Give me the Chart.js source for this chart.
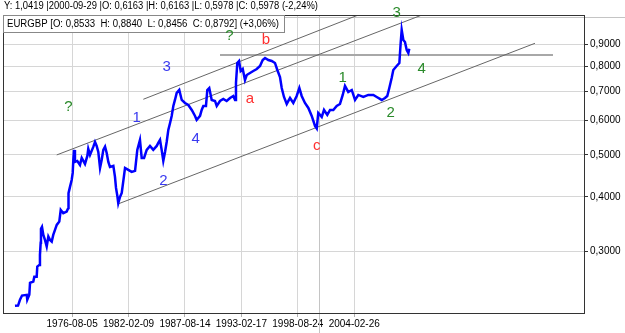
<!DOCTYPE html>
<html>
<head>
<meta charset="utf-8">
<script src="https://cdn.jsdelivr.net/npm/chart.js@4/dist/chart.umd.min.js"></script>
<style>
  html, body { margin: 0; padding: 0; background: #fff; }
  #wrap { width: 625px; height: 333px; }
</style>
</head>
<body>
<div id="wrap"><canvas id="chart"></canvas></div>
<script>
// EURGBP price path (decimal year, price)
const priceDates = [
  1971.01, 1971.31, 1971.50, 1971.70, 1972.16, 1972.21, 1972.41, 1972.48, 1972.80, 1972.90,
  1973.13, 1973.19, 1973.39, 1973.45, 1973.52, 1973.55, 1973.65, 1973.78, 1973.94, 1974.11,
  1974.27, 1974.43, 1974.60, 1974.75, 1974.92, 1975.09, 1975.34, 1975.48, 1975.73, 1976.06,
  1976.22, 1976.24, 1976.39, 1976.55, 1976.65, 1976.71, 1976.78, 1976.87, 1977.10, 1977.36,
  1977.53, 1977.85, 1978.08, 1978.17, 1978.34, 1978.66, 1978.83, 1978.99, 1979.15, 1979.32,
  1979.48, 1979.64, 1979.81, 1979.97, 1980.13, 1980.29, 1980.62, 1980.78, 1980.88, 1981.01,
  1981.10, 1981.27, 1981.44, 1981.66, 1981.76, 1982.08, 1982.41, 1982.74, 1982.96, 1983.22,
  1983.39, 1983.62, 1983.88, 1984.20, 1984.52, 1984.86, 1985.01, 1985.18, 1985.34, 1985.50,
  1985.67, 1985.83, 1985.99, 1986.16, 1986.32, 1986.48, 1986.64, 1986.81, 1987.06, 1987.30,
  1987.62, 1987.94, 1988.28, 1988.60, 1988.76, 1989.09, 1989.25, 1989.41, 1989.67, 1989.80,
  1989.99, 1990.23, 1990.55, 1990.72, 1991.04, 1991.36, 1991.69, 1992.02, 1992.34, 1992.51,
  1992.60, 1992.73, 1992.90, 1993.06, 1993.26, 1993.48, 1993.65, 1993.97, 1994.29, 1994.63,
  1994.95, 1995.21, 1995.44, 1995.76, 1996.09, 1996.41, 1996.64, 1996.90, 1997.07, 1997.29,
  1997.56, 1997.88, 1998.20, 1998.53, 1998.79, 1999.02, 1999.34, 1999.67, 2000.00, 2000.32,
  2000.49, 2000.64, 2000.98, 2001.20, 2001.52, 2001.79, 2002.11, 2002.44, 2002.76, 2003.03,
  2003.25, 2003.57, 2003.91, 2004.23, 2004.55, 2005.04, 2005.53, 2006.02, 2006.35, 2006.84,
  2007.16, 2007.38, 2007.58, 2007.81, 2007.97, 2008.30, 2008.56, 2008.69, 2008.79, 2008.95,
  2009.11, 2009.28, 2009.44, 2009.53
];
const priceValues = [
  0.2244, 0.2247, 0.2317, 0.2370, 0.2379, 0.2317, 0.2379, 0.2535, 0.2553, 0.2617,
  0.2617, 0.2764, 0.2789, 0.2941, 0.3135, 0.3377, 0.3413, 0.3271, 0.3185, 0.3074,
  0.3242, 0.3185, 0.3157, 0.3271, 0.3359, 0.3449, 0.3510, 0.3735, 0.3670, 0.3702,
  0.3775, 0.4081, 0.4226, 0.4379, 0.4545, 0.4870, 0.5136, 0.4818, 0.4844, 0.4743,
  0.4922, 0.4768, 0.4975, 0.5163, 0.5001, 0.5218, 0.5358, 0.5246, 0.5081, 0.4667,
  0.4870, 0.5136, 0.5227, 0.5054, 0.4818, 0.4692, 0.4717, 0.4450, 0.4197, 0.4023,
  0.3870, 0.4002, 0.4088, 0.4474, 0.4667, 0.4618, 0.4569, 0.4594, 0.5136, 0.5416,
  0.4922, 0.4922, 0.5136, 0.5246, 0.5136, 0.5246, 0.5330, 0.5416, 0.5136, 0.4844,
  0.5081, 0.5358, 0.5711, 0.5927, 0.6152, 0.6487, 0.6697, 0.6950, 0.7061, 0.6697,
  0.6591, 0.6522, 0.6350, 0.6152, 0.6022, 0.6152, 0.6350, 0.6487, 0.6487, 0.7061,
  0.7136, 0.6697, 0.6661, 0.6487, 0.6661, 0.6732, 0.6661, 0.6768, 0.6840, 0.6697,
  0.7329, 0.8150, 0.8237, 0.7811, 0.7894, 0.7447, 0.7646, 0.7728, 0.7811, 0.7894,
  0.8021, 0.8280, 0.8369, 0.8280, 0.8237, 0.8150, 0.7852, 0.7566, 0.7136, 0.6804,
  0.6556, 0.6768, 0.6591, 0.6840, 0.7136, 0.6840, 0.6591, 0.6418, 0.6152, 0.5833,
  0.5757, 0.6250, 0.6119, 0.6350, 0.6184, 0.6350, 0.6350, 0.6487, 0.6556, 0.6877,
  0.7213, 0.6987, 0.7061, 0.6697, 0.6877, 0.6804, 0.6877, 0.6877, 0.6804, 0.6697,
  0.6768, 0.6840, 0.7136, 0.7525, 0.7852, 0.8021, 0.8150, 0.9062, 0.9710, 0.9207,
  0.9111, 0.8732, 0.8593, 0.8792
];

// trend channel lines: start and end of each (decimal year, price)
const lineStartDates = [1975.09, 1983.55, 1981.10, 1991.04];
const lineStartValues = [0.5001, 0.6721, 0.3856, 0.850];
const lineEndDates = [2010.77, 2004.55, 2021.81, 2023.57];
const lineEndValues = [1.0515, 1.0515, 0.9048, 0.850];

// wave count labels
const waveTexts = ['?', '1', '3', '4', '2', '?', 'b', 'a', 'c', '1', '2', '3', '4'];
const waveDates = [1976.22, 1982.90, 1985.83, 1988.67, 1985.50, 1991.95, 1995.53, 1993.97, 2000.49, 2003.03, 2007.72, 2008.30, 2010.75];
const waveValues = [0.644, 0.6077, 0.7991, 0.5436, 0.4356, 0.9406, 0.9207, 0.6732, 0.5246, 0.7514, 0.6260, 1.0609, 0.7881];
const waveDegree = ['big', 'small', 'small', 'small', 'small', 'big', 'abc', 'abc', 'abc', 'big', 'big', 'big', 'big'];

// axis ticks
const xTickLabels = ['1976-08-05', '1982-02-09', '1987-08-14', '1993-02-17', '1998-08-24', '2004-02-26'];
const yTickValues = [0.3, 0.4, 0.5, 0.6, 0.7, 0.8, 0.9];

const infoLine = 'Y: 1,0419 |2000-09-29 |O: 0,6163 |H: 0,6163 |L: 0,5978 |C: 0,5978 (-2,24%)';
const legendLine = 'EURGBP [O: 0,8533  H: 0,8840  L: 0,8456  C: 0,8792] (+3,06%)';
const cursorDate = '2000-09-29';
const cursorValue = 1.0419;

const FONT = "'Liberation Sans', Arial, sans-serif";
const degreeColors = { big: '#2a8a2a', small: '#3a3af0', abc: '#ff3030' };

// date string -> decimal year
function toYear(str) {
    const [y, m, d] = str.split('-').map(Number);
    const start = Date.UTC(y, 0, 1);
    const end = Date.UTC(y + 1, 0, 1);
    return y + (Date.UTC(y, m - 1, d) - start) / (end - start);
}

const datasets = [{
    data: priceDates.map((d, i) => ({ x: d, y: priceValues[i] })),
    borderColor: '#0000ff',
    borderWidth: 2.5,
    pointRadius: 0,
    tension: 0
}];

lineStartDates.forEach((d, i) => {
    const flat = lineStartValues[i] === lineEndValues[i];
    datasets.push({
        data: [{ x: d, y: lineStartValues[i] }, { x: lineEndDates[i], y: lineEndValues[i] }],
        borderColor: flat ? '#a8a8a8' : '#666666',
        borderWidth: flat ? 2 : 1,
        pointRadius: 0
    });
});

// frame, cursor crosshair, info header and wave labels
const extrasPlugin = {
    id: 'extras',
    beforeDatasetsDraw: (chart) => {
        const ctx = chart.ctx;
        const x = chart.scales.x.getPixelForValue(toYear(cursorDate));
        const y = chart.scales.y.getPixelForValue(cursorValue);
        ctx.save();
        ctx.strokeStyle = '#c4c4c4';
        ctx.lineWidth = 1;
        ctx.beginPath();
        ctx.moveTo(Math.round(x) + 0.5, chart.chartArea.top);
        ctx.lineTo(Math.round(x) + 0.5, chart.height);
        ctx.moveTo(chart.chartArea.left, Math.round(y) + 0.5);
        ctx.lineTo(chart.width, Math.round(y) + 0.5);
        ctx.stroke();
        ctx.restore();
    },
    afterDraw: (chart) => {
        const ctx = chart.ctx;
        const area = chart.chartArea;
        ctx.save();

        // plot frame
        ctx.strokeStyle = '#333';
        ctx.lineWidth = 1;
        ctx.strokeRect(area.left + 0.5, area.top + 0.5, area.right - area.left, area.bottom - area.top);

        // header lines
        ctx.fillStyle = '#000';
        ctx.font = '10px ' + FONT;
        ctx.textBaseline = 'middle';
        ctx.textAlign = 'left';
        ctx.fillText(infoLine, 4, 6, 314);

        ctx.fillStyle = '#fff';
        ctx.fillRect(area.left + 1, area.top + 1, 280, 17);
        ctx.strokeStyle = '#888';
        ctx.strokeRect(area.left + 0.5, area.top + 0.5, 281, 17);
        ctx.fillStyle = '#000';
        ctx.fillText(legendLine, 7, area.top + 9.5, 272);

        // wave labels
        ctx.font = '15px ' + FONT;
        ctx.textAlign = 'center';
        waveTexts.forEach((t, i) => {
            ctx.fillStyle = degreeColors[waveDegree[i]];
            ctx.fillText(t, chart.scales.x.getPixelForValue(waveDates[i]), chart.scales.y.getPixelForValue(waveValues[i]));
        });
        ctx.restore();
    }
};

new Chart(document.getElementById('chart'), {
    type: 'line',
    data: { datasets: datasets },
    options: {
        responsive: true,
        maintainAspectRatio: false,
        animation: false,
        layout: { padding: { left: 3, top: 15, right: 0, bottom: 0 } },
        plugins: { legend: { display: false }, tooltip: { enabled: false } },
        scales: {
            x: {
                type: 'linear',
                min: 1969.84,
                max: 2026.6,
                bounds: 'data',
                afterBuildTicks: (scale) => {
                    scale.ticks = xTickLabels.map(d => ({ value: toYear(d) }));
                },
                afterFit: (scale) => { scale.height = 20; },
                ticks: {
                    callback: (value, index) => xTickLabels[index],
                    autoSkip: false,
                    maxRotation: 0,
                    padding: 1,
                    color: '#000',
                    font: { family: FONT, size: 10 }
                },
                grid: { color: '#d6d6d6', tickLength: 4, tickColor: '#b0b0b0' },
                border: { color: '#333' }
            },
            y: {
                type: 'logarithmic',
                position: 'right',
                min: 0.216,
                max: 1.0515,
                bounds: 'data',
                afterBuildTicks: (scale) => {
                    scale.ticks = yTickValues.map(v => ({ value: v }));
                },
                afterFit: (scale) => { scale.width = 41; },
                ticks: {
                    callback: (value) => value.toFixed(4).replace('.', ','),
                    padding: 2,
                    color: '#000',
                    font: { family: FONT, size: 10 }
                },
                grid: { color: '#d6d6d6', tickLength: 4, tickColor: '#333' },
                border: { color: '#333' }
            }
        }
    },
    plugins: [extrasPlugin]
});
</script>
</body>
</html>
